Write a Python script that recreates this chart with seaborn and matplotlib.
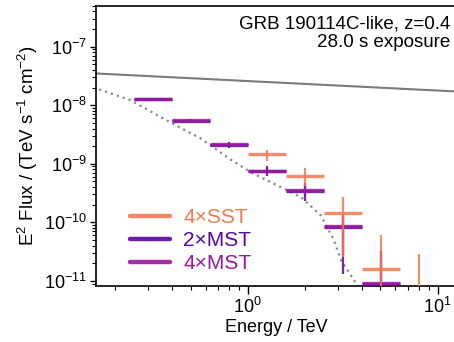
import numpy as np
import pandas as pd
import matplotlib
matplotlib.use("Agg")
import matplotlib.pyplot as plt
import seaborn as sns

# ---------------- data ----------------
# energy bin edges (TeV), 5 bins per decade
bin_lo = [0.251, 0.398, 0.631, 1.000, 1.585, 2.512, 3.981, 6.310]
bin_hi = [0.398, 0.631, 1.000, 1.585, 2.512, 3.981, 6.310, 10.00]
bin_c = [0.316, 0.501, 0.794, 1.259, 1.995, 3.162, 5.012, 7.943]

# 2xMST (bins 1-7)
mst2_flux = [1.27e-8, 5.45e-9, 2.08e-9, 7.45e-10, 3.40e-10, 8.2e-11, 9.0e-12]
mst2_up = [1.31e-8, 5.65e-9, 2.35e-9, 9.07e-10, 4.78e-10, 1.42e-10, 3.3e-11]
mst2_dn = [1.23e-8, 5.25e-9, 1.85e-9, 6.12e-10, 2.30e-10, 1.33e-11, 1.0e-12]

# 4xMST (bins 1-7)
mst4_flux = [1.30e-8, 5.60e-9, 2.15e-9, 7.60e-10, 3.55e-10, 8.6e-11, 9.3e-12]
mst4_up = [1.33e-8, 5.75e-9, 2.30e-9, 8.6e-10, 4.4e-10, 1.25e-10, 2.6e-11]
mst4_dn = [1.27e-8, 5.45e-9, 2.00e-9, 6.6e-10, 2.7e-10, 3.0e-11, 1.0e-12]

# 4xSST (bins 4-8)
sst_flux = [1.45e-9, 6.2e-10, 1.43e-10, 1.6e-11, 5.0e-12]
sst_up = [1.75e-9, 8.5e-10, 2.69e-10, 6.2e-11, 2.84e-11]
sst_dn = [1.13e-9, 4.26e-10, 2.52e-11, 1.0e-12, 1.0e-12]

# intrinsic (unabsorbed) power-law model
model_E = [0.16, 12.4]
model_F = [3.48e-8, 1.72e-8]

# EBL-absorbed model
abs_E = [0.165, 0.240, 0.392, 0.564, 0.813, 1.04, 1.91, 2.43, 2.85, 3.10, 3.73, 4.2]
abs_F = [1.86e-8, 1.23e-8, 5.09e-9, 2.72e-9, 1.18e-9, 7.16e-10, 2.69e-10,
         1.31e-10, 4.92e-11, 2.25e-11, 9.0e-12, 4.0e-12]

labels = ["4\u00d7SST", "2\u00d7MST", "4\u00d7MST"]
c_sst = "#ef7a50"
c_mst2 = "#5a04a4"
c_mst4 = "#9b189c"

# ---------------- style ----------------
sns.set_style("ticks")
plt.rcParams["font.family"] = ["Liberation Sans", "DejaVu Sans"]
plt.rcParams["mathtext.fontset"] = "custom"
plt.rcParams["mathtext.rm"] = "Liberation Sans"
plt.rcParams["mathtext.it"] = "Liberation Sans:italic"
plt.rcParams["mathtext.bf"] = "Liberation Sans:bold"
plt.rcParams["text.color"] = "black"
plt.rcParams["axes.labelcolor"] = "black"
plt.rcParams["xtick.color"] = "black"
plt.rcParams["ytick.color"] = "black"
plt.rcParams["axes.edgecolor"] = "black"

fig = plt.figure(figsize=(4.54, 3.42), dpi=100)
ax = fig.add_axes([96 / 454, 56 / 342, 360 / 454, 280.3 / 342])
ax.set_xscale("log")
ax.set_yscale("log")

# models
sns.lineplot(x=model_E, y=model_F, ax=ax, color="#7a7a7a", lw=1.5, sort=True)
sns.lineplot(x=abs_E, y=abs_F, ax=ax, color="#8a8a8a", lw=1.6,
             linestyle=(0, (1, 1.8)), sort=True)


def draw(E, lo, hi, f, up, dn, color, z):
    E = np.asarray(E)
    f = np.asarray(f)
    xerr = [E - np.asarray(lo), np.asarray(hi) - E]
    yerr = [f - np.asarray(dn), np.asarray(up) - f]
    ax.errorbar(E, f, xerr=xerr, fmt="none", ecolor=color, elinewidth=2.4,
                alpha=0.85, zorder=z)
    ax.errorbar(E, f, yerr=yerr, fmt="none", ecolor=color, elinewidth=1.6,
                alpha=0.85, zorder=z)


draw(bin_c[:7], bin_lo[:7], bin_hi[:7], mst2_flux, mst2_up, mst2_dn, c_mst2, 3)
draw(bin_c[:7], bin_lo[:7], bin_hi[:7], mst4_flux, mst4_up, mst4_dn, c_mst4, 4)
draw(bin_c[3:], bin_lo[3:], bin_hi[3:], sst_flux, sst_up, sst_dn, c_sst, 5)

# legend
handles = [plt.Line2D([], [], color=c, lw=3.2, alpha=0.9) for c in (c_sst, c_mst2, c_mst4)]
leg = ax.legend(handles, labels, loc="lower left", bbox_to_anchor=(0.095, 0.045),
                frameon=False, fontsize=15, handlelength=1.92, handletextpad=0.62,
                labelspacing=0.2, borderpad=0, borderaxespad=0,
                labelcolor=[c_sst, c_mst2, c_mst4])

ax.text(0.985, 0.965, "GRB 190114C-like, z=0.4\n28.0 s exposure",
        transform=ax.transAxes, ha="right", va="top", fontsize=13.5,
        multialignment="right", linespacing=1.1)

ax.set_xlim(0.159, 12.5)
ax.set_ylim(8.2e-12, 5e-7)
ax.set_xlabel("Energy / TeV", fontsize=13, labelpad=2)
ax.set_ylabel("E$^2$ Flux / (TeV s$^{-1}$ cm$^{-2}$)", fontsize=13.5, labelpad=3)
ax.tick_params(axis="both", which="major", labelsize=13, width=1,
               direction="out", pad=2)
ax.tick_params(axis="x", which="major", length=5.5)
ax.tick_params(axis="y", which="major", length=4.3)
ax.tick_params(axis="both", which="minor", length=3, width=0.8, direction="out")
ax.tick_params(top=False, right=False, which="both")
ax.xaxis.get_offset_text().set_visible(False)
ax.yaxis.get_offset_text().set_visible(False)
for s in ax.spines.values():
    s.set_linewidth(1.2)

fig.savefig("out.png", dpi=100)
